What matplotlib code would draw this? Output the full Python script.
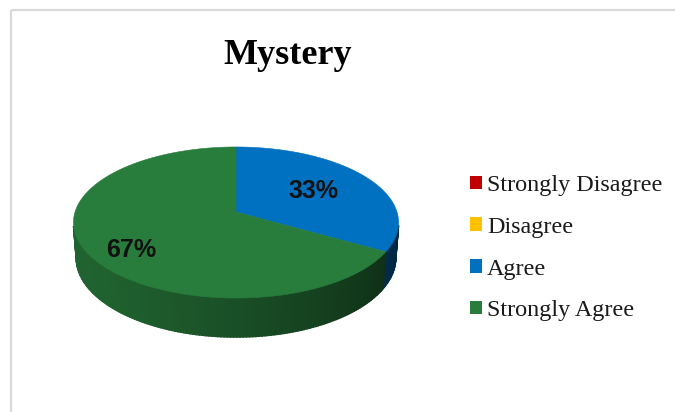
import numpy as np
import matplotlib
matplotlib.use("Agg")
import matplotlib.pyplot as plt
from matplotlib.patches import Polygon, Patch, Rectangle

# ---- data ----
categories = ["Strongly Disagree", "Disagree", "Agree", "Strongly Agree"]
values = [0, 0, 1, 2]
colors = ["#C00000", "#FFC000", "#0070C0", "#287C3C"]
title = "Mystery"

# ---- layout / projection parameters ----
W, Hpx = 675, 412
CX, CY = 236, 212          # pie centre in pixels
ELEV = np.radians(27.4)
DIST = 6.38
FOC = 1027.0
DEPTH = 0.25
ce, se = np.cos(ELEV), np.sin(ELEV)
label_r = [0.6, 0.6, 0.58, 0.77]
label_dang = [0, 0, 0, 8]


def proj(x, y, z):
    d = DIST + y * ce - z * se
    u = x * FOC / d
    v = (y * se + z * ce) * FOC / d
    return CX + u, CY - v


def shade(hexcol, f):
    rgb = np.array(matplotlib.colors.to_rgb(hexcol))
    return tuple(np.clip(rgb * f, 0, 1))


fig = plt.figure(figsize=(W / 100, Hpx / 100), dpi=100)
ax = fig.add_axes([0, 0, 1, 1])
ax.set_xlim(0, W)
ax.set_ylim(Hpx, 0)
ax.axis("off")

# frame
ax.add_patch(Rectangle((11, 10), 800, 600, fill=False, edgecolor="#d9d9d9", lw=1.6))

total = float(sum(values))
start = 90.0
slices = []
for i, v in enumerate(values):
    span = 360.0 * v / total
    slices.append((start, start - span))
    start -= span

# side faces
for i, (a1, a2) in enumerate(slices):
    if a1 == a2:
        continue
    th = np.radians(np.linspace(a1, a2, int(abs(a1 - a2)) + 2))
    for ta, tb in zip(th[:-1], th[1:]):
        tm = 0.5 * (ta + tb)
        if np.sin(tm) >= -1.0 / (DIST * ce):
            continue
        f = 0.55 + 0.25 * np.cos(tm - np.radians(200))
        col = shade(colors[i], f)
        pts = [proj(np.cos(ta), np.sin(ta), 0), proj(np.cos(tb), np.sin(tb), 0),
               proj(np.cos(tb), np.sin(tb), -DEPTH), proj(np.cos(ta), np.sin(ta), -DEPTH)]
        ax.add_patch(Polygon(pts, closed=True, facecolor=col, edgecolor=col, lw=1.2,
                             joinstyle="miter"))

# top faces
for i, (a1, a2) in enumerate(slices):
    if a1 == a2:
        continue
    th = np.radians(np.linspace(a1, a2, int(abs(a1 - a2) * 2) + 2))
    pts = [proj(0, 0, 0)] + [proj(np.cos(t), np.sin(t), 0) for t in th]
    ax.add_patch(Polygon(pts, closed=True, facecolor=colors[i], edgecolor=colors[i], lw=0.4))

# percentage labels
for i, (a1, a2) in enumerate(slices):
    if values[i] == 0:
        continue
    tm = np.radians(0.5 * (a1 + a2) + label_dang[i])
    r = label_r[i]
    x, y = proj(r * np.cos(tm), r * np.sin(tm), 0)
    ax.text(x, y, f"{round(100 * values[i] / total)}%", ha="center", va="center",
            fontsize=18, fontweight="bold", family="Liberation Sans", color="#111111")

# title
ax.text(287.5, 64, title, ha="center", va="baseline", fontsize=26, fontweight="bold",
        family="Liberation Serif", color="black")

# legend
handles = [Patch(facecolor=c, edgecolor="none") for c in colors]
leg = ax.legend(handles, categories, loc="upper left", bbox_to_anchor=(470 / W, 1 - 175 / Hpx),
                frameon=False, prop={"family": "Liberation Serif", "size": 17.4},
                handlelength=0.48, handleheight=0.48, handletextpad=0.22,
                labelspacing=0.86, borderaxespad=0, borderpad=0)
for t in leg.get_texts():
    t.set_color("#1a1a1a")

fig.savefig("out.png", dpi=100)
